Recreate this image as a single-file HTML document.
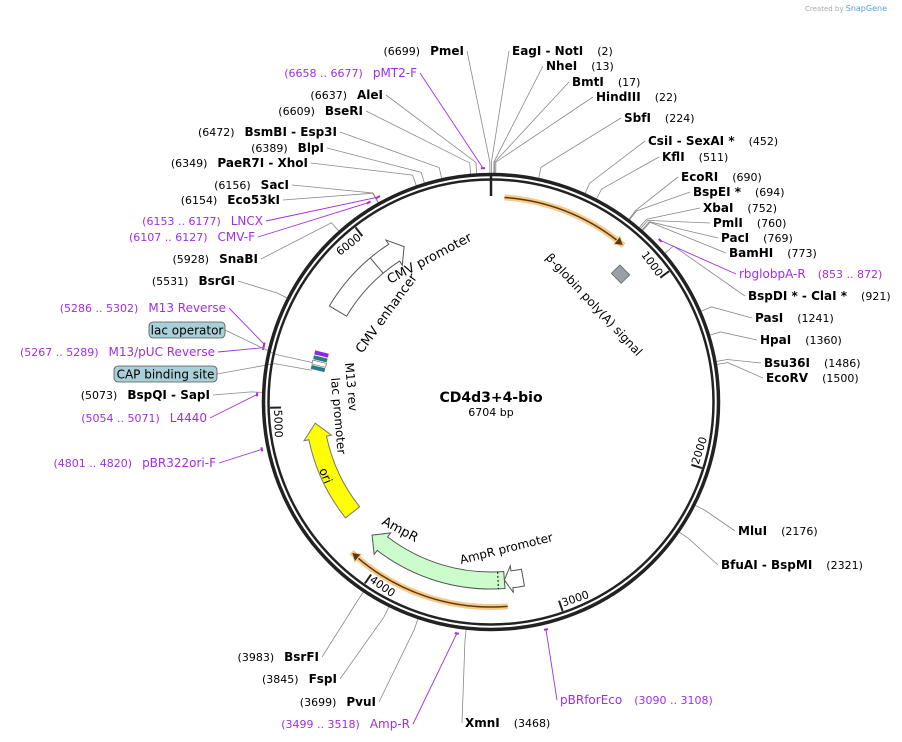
<!DOCTYPE html>
<html><head><meta charset="utf-8">
<style>
html,body{margin:0;padding:0;background:#fff;}
svg{display:block;font-family:"DejaVu Sans","Liberation Sans",sans-serif;}
.nm{font-weight:bold;font-size:12px;fill:#000;}
.num{font-size:11px;fill:#000;}
.pr{font-size:12px;fill:#a12ee0;}
.prn{font-size:11px;fill:#a12ee0;}
</style></head>
<body>
<svg id="map" width="902" height="742" viewBox="0 0 902 742" xmlns="http://www.w3.org/2000/svg">
<text x="805" y="11" font-size="7" fill="#aaa">Created by <tspan fill="#4fa6d6" font-size="8">SnapGene</tspan></text>
<g id="g-lines"></g>
<g id="g-circle"></g>
<g id="g-feat"></g>
<g id="g-labels"></g>
<text x="491" y="402" text-anchor="middle" font-weight="bold" font-size="14">CD4d3+4-bio</text>
<text x="491" y="416" text-anchor="middle" font-size="11">6704 bp</text>
</svg>
<script>
// ---- data ----
const totalBp = 6704;
const tickValues = [1000, 2000, 3000, 4000, 5000, 6000];
const siteNames = ["EagI - NotI","NheI","BmtI","HindIII","SbfI","CsiI - SexAI *","KflI","EcoRI","BspEI *","XbaI","PmlI","PacI","BamHI","BspDI * - ClaI *","PasI","HpaI","Bsu36I","EcoRV","MluI","BfuAI - BspMI","XmnI","PvuI","FspI","BsrFI","BspQI - SapI","BsrGI","SnaBI","Eco53kI","SacI","PaeR7I - XhoI","BlpI","BsmBI - Esp3I","BseRI","AleI","PmeI"];
const sitePositions = [2,13,17,22,224,452,511,690,694,752,760,769,773,921,1241,1360,1486,1500,2176,2321,3468,3699,3845,3983,5073,5531,5928,6154,6156,6349,6389,6472,6609,6637,6699];
const primerNames = ["rbglobpA-R","pBRforEco","Amp-R","pBR322ori-F","L4440","M13/pUC Reverse","M13 Reverse","CMV-F","LNCX","pMT2-F"];
const primerStarts = [853,3090,3499,4801,5054,5267,5286,6107,6153,6658];
const primerEnds = [872,3108,3518,4820,5071,5289,5302,6127,6177,6677];
// label layout (name x/y, side)
const siteLayout = [[512,55,'R'],[546,70,'R'],[572,86,'R'],[596,101,'R'],[624,122,'R'],[648,145,'R'],[662,161,'R'],[681,181,'R'],[693,196,'R'],[703,212,'R'],[713,227,'R'],[721,242,'R'],[729,257,'R'],[748,300,'R'],[755,322,'R'],[760,344,'R'],[764,367,'R'],[766,382,'R'],[738,535,'R'],[721,569,'R'],[465,727,'R'],[376,706,'L'],[337,683,'L'],[319,661,'L'],[210,399,'L'],[235,285,'L'],[258,263,'L'],[280,204,'L'],[289,189,'L'],[308,167,'L'],[324,152,'L'],[337,136,'L'],[363,115,'L'],[383,99,'L'],[464,55,'L']];
const primerLayout = [[739,278,'R'],[560,704,'R'],[410,728,'L'],[216,467,'L'],[207,422,'L'],[215,356,'L'],[226,312,'L'],[255,241,'L'],[263,225,'L'],[417,77,'L']];

const cx = 491, cy = 402, R = 226;
const NS = "http://www.w3.org/2000/svg";
function ang(bp){ return bp / totalBp * 2 * Math.PI; }
function pt(bp, r){ const a = ang(bp); return [cx + r*Math.sin(a), cy - r*Math.cos(a)]; }
function mk(tag, attrs, parent){ const e = document.createElementNS(NS, tag); for (const k in attrs) e.setAttribute(k, attrs[k]); if (parent) parent.appendChild(e); return e; }
function arcPath(b1, b2, r){ const p1 = pt(b1, r), p2 = pt(b2, r); const large = Math.abs(b2-b1)/totalBp > 0.5 ? 1 : 0; return `M${p1[0]},${p1[1]} A${r},${r} 0 ${large} 1 ${p2[0]},${p2[1]}`; }
function arrowShape(b1, b2, r1, r2, headBp){
  const rm = (r1+r2)/2, rh1 = r1-5, rh2 = r2+5;
  const bh = b2 - headBp;
  const a = pt(b1,r2), b = pt(bh,r2), c = pt(bh,rh2), d = pt(b2,rm), e = pt(bh,rh1), f = pt(bh,r1), g = pt(b1,r1);
  return `M${a} A${r2},${r2} 0 0 1 ${b} L${c} L${d} L${e} L${f} A${r1},${r1} 0 0 0 ${g} Z`;
}

const gC = document.getElementById('g-circle');
const gF = document.getElementById('g-feat');
const gL = document.getElementById('g-lines');
const gT = document.getElementById('g-labels');

// backbone
let c1 = mk('circle', {cx, cy, r: R+1.5, fill: 'none', stroke: '#222', 'stroke-width': 3.5}, gC);


let c2 = mk('circle', {cx, cy, r: R-3.5, fill: 'none', stroke: '#222', 'stroke-width': 2.5}, gC);


{ const a = pt(0, R+1), b = pt(0, R-20);
  const t = mk('line', {x1:a[0], y1:a[1], x2:b[0], y2:b[1], stroke:'#222', 'stroke-width':2.5}, gC);
  
   }
tickValues.forEach(v => {
  const a = pt(v, R-5), b = pt(v, R-16);
  const t = mk('line', {x1:a[0], y1:a[1], x2:b[0], y2:b[1], stroke:'#222', 'stroke-width':2}, gC);
  
  
  const deg = v/totalBp*360;
  const bottom = deg > 90 && deg < 270;
  const rot = bottom ? deg - 180 : deg;
  const p = bottom ? pt(v-10, R-9) : pt(v-10, R-18);
  const tx = mk('text', {x:p[0], y:p[1], 'font-size':11, 'text-anchor': bottom ? 'start' : 'end', transform:`rotate(${rot} ${p[0]} ${p[1]})`}, gC);
  tx.textContent = v;
  
  
});

function leader(bp, ax, ay, color){
  const a = pt(bp, R+3), b = pt(bp, R+14);
  return mk('polyline', {points:`${a} ${b} ${ax},${ay}`, fill:'none', stroke:color, 'stroke-width':0.8}, gL);
}
siteNames.forEach((n, i) => {
  const [x, y, side] = siteLayout[i];
  const ln = leader(sitePositions[i], side==='R' ? x-3 : x+3, y-4, '#888');
  
  
  const t = mk('text', {x, y, 'text-anchor': side==='R' ? 'start' : 'end'}, gT);
  
  
  if (side === 'R'){
    t.innerHTML = `<tspan class="nm">${n}</tspan><tspan class="num" dx="14">(${sitePositions[i]})</tspan>`;
  } else {
    t.innerHTML = `<tspan class="num">(${sitePositions[i]})</tspan><tspan class="nm" dx="10">${n}</tspan>`;
  }
});
primerNames.forEach((n, i) => {
  const [x, y, side] = primerLayout[i];
  const s = primerStarts[i], e = primerEnds[i];
  const m = mk('path', {d: arcPath(s, e, R+8), fill:'none', stroke:'#a12ee0', 'stroke-width':2}, gL);
  
  
  const a = pt((s+e)/2, R+8);
  const ln = mk('line', {x1:a[0], y1:a[1], x2: side==='R'? x-3 : x+3, y2: y-4, stroke:'#a12ee0', 'stroke-width':0.9}, gL);
  
  
  const t = mk('text', {x, y, 'text-anchor': side==='R' ? 'start' : 'end'}, gT);
  
  
  if (side === 'R') t.innerHTML = `<tspan class="pr">${n}</tspan><tspan class="prn" dx="12">(${s} .. ${e})</tspan>`;
  else t.innerHTML = `<tspan class="prn">(${s} .. ${e})</tspan><tspan class="pr" dx="10">${n}</tspan>`;
});

function boxLabel(name, bp, x, y, w){
  const a = pt(bp, 182), b = pt(bp, R-6);
  const ln = mk('polyline', {points:`${a} ${b} ${x+w},${y+8}`, fill:'none', stroke:'#888', 'stroke-width':0.8}, gL);
  
  
  const r = mk('rect', {x, y, width:w, height:16, rx:4, fill:'#a9cfd8', stroke:'#555', 'stroke-width':0.8}, gT);
  
  
  const t = mk('text', {x: x + w/2, y: y+12.5, 'text-anchor':'middle', 'font-size':12}, gT);
  t.textContent = name;
  
  
}
boxLabel('lac operator', 5260, 149, 322, 76);
boxLabel('CAP binding site', 5215, 114, 366, 103);

function orangeArc(b1, b2, name){
  const r = 205;
  const halo = mk('path', {d: arcPath(b1, b2, r), fill:'none', stroke:'#f7c98a', 'stroke-width':6}, gF);
  
  
  const line = mk('path', {d: arcPath(b1, b2 - 40, r), fill:'none', stroke:'#5a3a10', 'stroke-width':1.5}, gF);
  
  
  const tip = pt(b2, r), o = pt(b2-45, r+5), inn = pt(b2-45, r-5);
  const h = mk('path', {d:`M${tip} L${o} L${inn} Z`, fill:'#5a3a10', stroke:'#f7c98a', 'stroke-width':1}, gF);
  
  
}
orangeArc(70, 750, 'orf-arrow');
orangeArc(3265, 4150, 'ampr-orf-arrow');

{ const p = pt(845, 182); const deg = 845/totalBp*360;
  const r = mk('rect', {x:p[0]-7, y:p[1]-6, width:14, height:12, fill:'#9aa0a6', stroke:'#666', 'stroke-width':0.8, transform:`rotate(${deg} ${p[0]} ${p[1]})`}, gF);
  
   }
function radialText(txt, x, y, deg, name, size){
  const t = mk('text', {x, y, 'font-size': size||12, transform:`rotate(${deg} ${x} ${y})`}, gF);
  t.textContent = txt;
  
  
  return t;
}
radialText('β-globin poly(A) signal', 545, 258, 47, 'beta-globin-label');

{ const p = mk('path', {d: arrowShape(5600, 6160, 168, 188, 70), fill:'#fff', stroke:'#555', 'stroke-width':1}, gF);
  
  
  const a = pt(5960, 168), b = pt(5960, 188);
  mk('line', {x1:a[0], y1:a[1], x2:b[0], y2:b[1], stroke:'#555'}, gF); }
radialText('CMV promoter', 390, 284, -28, 'cmv-promoter-label', 13);
radialText('CMV enhancer', 362, 354, -54, 'cmv-enhancer-label', 13);

{ const g = mk('g', {}, gF);
  
  
  const deg = 5280/totalBp*360;
  const p = pt(5280, 179);
  mk('rect', {x:p[0]-4, y:p[1]-9, width:14, height:4, fill:'#8a2be2', transform:`rotate(${deg+90} ${p[0]} ${p[1]})`}, g);
  mk('rect', {x:p[0]-4, y:p[1]-4, width:14, height:4, fill:'#2b7a8c', transform:`rotate(${deg+90} ${p[0]} ${p[1]})`}, g);
  mk('rect', {x:p[0]-4, y:p[1]+1, width:14, height:4, fill:'#fff', stroke:'#555', 'stroke-width':0.6, transform:`rotate(${deg+90} ${p[0]} ${p[1]})`}, g);
  mk('rect', {x:p[0]-4, y:p[1]+6, width:14, height:4, fill:'#2b7a8c', transform:`rotate(${deg+90} ${p[0]} ${p[1]})`}, g); }
radialText('lac promoter', 331, 378, 85, 'lac-promoter-label', 12);
radialText('M13 rev', 345, 363, 85, 'm13-rev-label', 12);

{ const p = mk('path', {d: arrowShape(4310, 4900, 168, 186, 90), fill:'#ffff00', stroke:'#777', 'stroke-width':1}, gF);
  
   }
radialText('ori', 319, 470, 68, 'ori-label', 12);

{ const q = mk('path', {d: arrowShape(3160, 3272, 170, 187, 45), fill:'#fff', stroke:'#555', 'stroke-width':1}, gF);
  
  
  const p = mk('path', {d: arrowShape(3272, 4130, 170, 187, 80), fill:'#ccfccc', stroke:'#555', 'stroke-width':1}, gF);
  
  
  const a = pt(3310, 170), b = pt(3310, 187);
  mk('line', {x1:a[0], y1:a[1], x2:b[0], y2:b[1], stroke:'#000', 'stroke-dasharray':'2,2'}, gF); }
radialText('AmpR', 381, 524, 28, 'ampr-label', 13);
radialText('AmpR promoter', 461, 564, -14, 'ampr-promoter-label', 12);
</script>
</body></html>
